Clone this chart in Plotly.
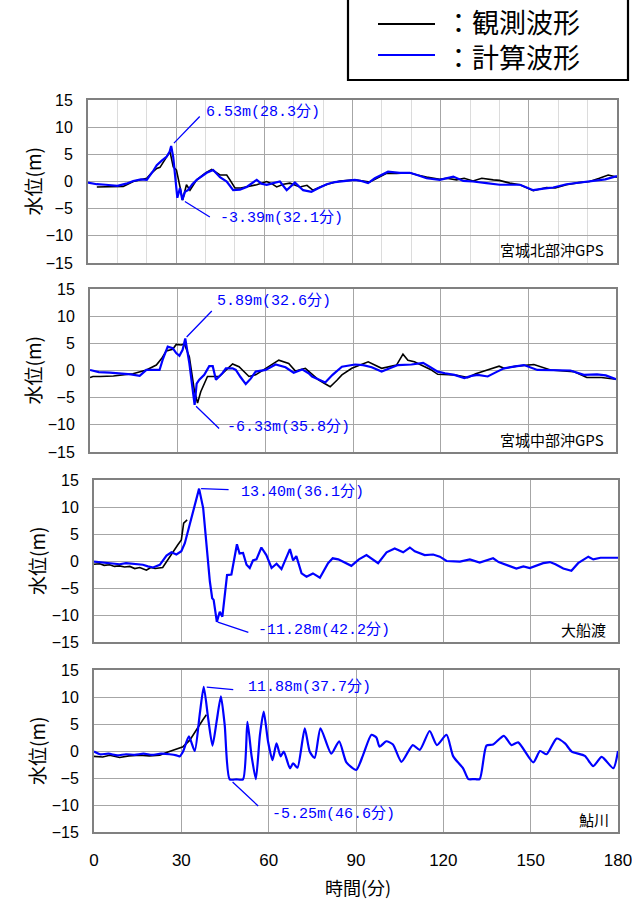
import plotly.graph_objects as go
import numpy as np

# ---------------- data (time in minutes, water level in m) ----------------
# Panel 1: 宮城北部沖GPS
t_obs1 = [3, 8, 12, 15.4, 18, 20, 21.5, 23.4, 24.5, 26.2, 27.9, 29.0, 30.1, 31.3, 32.2, 33.5, 34.7, 36, 37,
          40, 42.1, 44.9, 47.2, 48.3, 50, 52, 54, 57.4, 60.8, 62.5, 64.2, 66.5, 68.7, 72.1, 74.5, 76.5, 79, 82,
          85.7, 90.8, 95.9, 98, 101.6, 105, 109.5, 112, 115.2, 119.7, 122, 125.4, 128, 131, 134, 137.9, 140,
          143.5, 147, 151.5, 154, 156, 159, 162.8, 167, 170.7, 174, 177, 180]
v_obs1 = [-1.0, -1.0, -0.9, 0.0, 0.3, 0.6, 1.5, 2.4, 2.6, 4.0, 5.5, 2.7, 2.1, -1.0, -3.4, -0.6, -1.6, -0.5, 0.3,
          1.6, 2.2, 1.2, 1.2, 0.3, -1.2, -1.2, -1.0, -0.6, 0.0, -0.4, -1.0, -0.5, -0.3, -1.0, -0.7, -1.6, -1.0, -0.4,
          0.1, 0.3, -0.1, 0.5, 1.5, 1.5, 1.6, 1.2, 0.8, 0.4, 0.6, 0.3, 0.6, 0.1, 0.6, 0.3, 0.2,
          -0.3, -0.6, -1.7, -1.4, -1.1, -1.2, -0.6, -0.2, 0.0, 0.6, 1.2, 0.8]
t_calc1 = [0, 3, 6, 10, 13, 15.4, 18, 20, 22, 23.4, 25, 26.8, 27.8, 28.3, 29.0, 29.6, 30.4, 31.3, 32.1, 33, 34,
           35.5, 37, 40.4, 42.6, 44.9, 47.2, 49.4, 51.7, 54, 56, 57.4, 59, 60.8, 63, 65.3, 67.6, 70.4, 73.2, 76,
           78.5, 81.2, 84, 86.8, 90.8, 93, 95.3, 97.6, 100, 102.1, 106, 109.5, 112, 115.2, 119.7, 122, 124.3,
           127.7, 131, 135.6, 140.1, 147, 149, 151.5, 155, 158.3, 162.8, 167, 171.9, 176, 180]
v_calc1 = [-0.2, -0.5, -0.6, -0.8, -0.4, 0.1, 0.4, 0.3, 1.8, 3.0, 3.8, 4.6, 5.5, 6.53, 4.5, 1.0, -3.0, -1.2, -3.39, -1.9, -1.6,
           -0.5, 0.3, 1.6, 2.1, 0.8, 0.0, -1.6, -1.5, -1.0, -0.2, 0.3, -0.4, -0.6, -0.3, 0.0, -1.6, -0.2, -1.6, -1.9,
           -1.2, -0.5, -0.1, 0.1, 0.3, 0.1, -0.3, 0.6, 1.2, 1.8, 1.6, 1.6, 1.2, 0.6, 0.3, 0.6, 0.9,
           0.1, 0.0, -0.3, -0.6, -0.6, -1.0, -1.6, -1.3, -1.1, -0.5, -0.2, 0.1, 0.4, 1.0]

# Panel 2: 宮城中部沖GPS
t_obs2 = [0, 1, 3.4, 8, 14.7, 19.3, 22.7, 24.5, 26.1, 28.3, 29.5, 31.2, 32.3, 34.0, 35.7, 36.8, 37.9, 40.2, 44.2,
          46.5, 48.8, 51, 54.4, 56.7, 60.1, 62, 64.6, 68, 70.3, 73.7, 75.5, 78.2, 80, 82.2, 84.5, 86.2, 89.6, 92.5,
          95.2, 99.8, 103, 104.9, 107.1, 108.8, 111, 114.5, 116.5, 119, 124.7, 129.3, 132, 134.9, 137, 140, 141.7,
          146, 151.9, 155, 157.6, 165.5, 168, 170, 175, 180]
v_obs2 = [-1.3, -1.1, -1.1, -1.0, -0.6, 0.1, 1.0, 2.2, 3.6, 3.9, 4.8, 4.7, 4.9, 2.5, -3.6, -6.0, -3.9, -1.1, -1.1,
          0.0, 1.2, 0.7, -1.1, -0.8, 0.4, 1.0, 1.9, 1.3, -0.1, 0.4, -0.5, -1.7, -2.3, -3.0, -1.8, -0.8, 0.4, 1.0,
          1.6, 0.4, 0.7, 1.0, 3.0, 1.9, 1.6, 0.8, 0.2, -0.7, -0.8, -1.3, -0.6, -0.1, 0.3, 0.8, 0.4,
          0.8, 1.1, 0.5, 0.1, -0.2, -0.8, -1.3, -1.3, -1.6]
t_calc2 = [0, 3, 6.8, 10, 14, 17, 19.3, 23.8, 25, 26.6, 28.3, 29.5, 30.6, 31.7, 32.6, 34.0, 35.0, 35.8, 36.5, 37.4,
           39.1, 40.8, 42, 43.1, 45.3, 46.5, 48.8, 49.9, 51.5, 53.3, 55, 56.7, 60.1, 63.5, 66.9, 69.7, 72.6, 74.8,
           76, 78.2, 80.5, 83, 86.2, 90.7, 93.5, 96.4, 99.8, 103, 105.4, 110, 114, 116.5, 119, 121.5, 124.7, 128.1,
           130.5, 132.7, 136.1, 139, 141.7, 145, 148.5, 153.1, 158, 164.4, 169, 173.5, 176.5, 180]
v_calc2 = [0.1, -0.3, -0.4, -0.5, -0.7, -1.0, 0.1, 0.1, 2.2, 4.4, 4.1, 3.2, 2.7, 3.8, 5.89, 1.3, -3.5, -6.33, -2.4, -1.7,
           -0.8, 0.8, 0.8, -1.7, -0.5, 0.4, 0.4, 0.1, -1.2, -2.5, -1.5, -0.2, 0.1, 1.1, 0.6, -0.4, 0.2, -0.5,
           -1.1, -1.7, -2.2, -0.8, 0.7, 1.1, 1.0, 0.6, -0.2, 0.5, 1.0, 1.1, 1.4, 0.6, -0.2, -0.5, -0.8, -1.4,
           -1.0, -0.8, -1.1, -0.3, 0.4, 0.7, 1.0, 0.1, 0.0, 0.0, -0.8, -0.7, -0.9, -1.6]

# Panel 3: 大船渡
t_obs3 = [0, 2, 3.5, 5.4, 7, 8.8, 10.5, 12.3, 14, 15.7, 17, 18, 19.5, 21, 23.6, 24.9, 27.1, 28.8, 30.0, 30.8, 32.0]
v_obs3 = [-0.6, -0.5, -0.8, -0.7, -1.0, -0.9, -1.1, -1.0, -1.4, -1.2, -1.5, -1.7, -1.2, -1.4, -1.2, -0.1, 1.8, 3.0,
          3.9, 7.0, 7.6]
t_calc3 = [0, 3, 5.5, 8.8, 11, 13.4, 16.8, 18.5, 20.3, 22.6, 24.9, 26.6, 28.3, 30.0, 31.2, 32.9, 34.6, 36.1, 37.5,
           38.6, 39.8, 40.6, 41.1, 42.2, 43.2, 44.1, 44.6, 45.7, 47.2, 48.2, 49.1, 50, 51.2, 52.4, 53.5, 54.6, 55.8,
           57.5, 59.2, 61, 62.7, 64.4, 67.3, 68.4, 69.5, 71.3, 73, 75.2, 77.6, 80.4, 82, 83.9, 85.6, 88.4, 91,
           93.6, 97.6, 100.5, 103.3, 106.2, 108.5, 110.2, 113.6, 116.5, 118.8, 121.1, 125.7, 129.1, 132.5, 135,
           137.1, 139, 141.7, 145.1, 147.5, 149.7, 154.3, 156.6, 158.5, 161.2, 164, 166.3, 169.8, 171.5, 174,
           176.1, 178, 180]
v_calc3 = [-0.1, -0.3, -0.5, -0.6, -0.4, -0.5, -0.7, -1.0, -1.2, -0.7, 1.0, 1.6, 1.2, 1.8, 3.3, 6.8, 10.4, 13.40, 9.8,
           3.0, -3.8, -6.9, -7.2, -11.28, -9.4, -10.3, -8.1, -2.6, -2.5, 0.5, 3.1, 1.4, 1.5, -0.7, -1.3, 0.1, 0.3,
           2.5, 1.1, -1.3, -0.5, -1.5, 2.2, 0.1, 0.9, -2.3, -2.9, -2.3, -3.1, -0.4, 0.5, 0.3, -0.2, -0.9, 0.3,
           1.1, -0.4, 1.6, 2.3, 1.6, 2.5, 1.8, 1.1, 1.2, 0.8, 0.0, -0.1, 0.3, -0.3, 0.2,
           0.5, -0.2, -0.7, -1.4, -1.0, -1.3, -0.4, -0.2, -0.6, -1.4, -1.8, -0.4, 0.8, 0.3, 0.6,
           0.6, 0.5, 0.6]

# Panel 4: 鮎川
t_obs4 = [0, 3, 5.4, 8.8, 12, 15.7, 19, 22.6, 24.9, 28.3, 30.6, 32.9, 35.7, 37.3, 38.6]
v_obs4 = [-1.0, -1.1, -0.8, -1.2, -0.9, -0.8, -0.9, -0.8, -0.3, 0.4, 0.8, 2.0, 4.5, 5.7, 6.7]
t_calc4 = [0, 2, 5, 8, 11, 14, 17, 20, 23, 26, 28.3, 29.4, 30.6, 32.6, 34.6, 36.3, 37.7, 39.2, 40.7, 42.1, 43.6,
           44.9, 46.6, 48.9, 51.2, 52.7, 54.1, 55.6, 57, 58.3, 59.8, 61.3, 62.7, 64.1, 65.2, 67.3, 68.4, 69.9, 72.4,
           74.1, 75.8, 77.8, 81.5, 84.2, 86.7, 90.1, 92.4, 95.3, 97, 98.1, 100.4, 102.7, 105.6, 109.5, 111.9, 115.3,
           117.8, 121.1, 123.4, 126.8, 128.6, 130.5, 132.5, 134.8, 137.1, 140.8, 143.4, 145.7, 150.9, 153.2, 155.5,
           158.9, 161.8, 164.1, 168.6, 171.5, 174.4, 178.4, 180]
v_calc4 = [-0.1, -0.6, -0.5, -0.8, -0.6, -0.7, -0.5, -0.7, -0.5, -0.6, -0.8, -1.0, -0.1, 2.7, 0.0, 6.7, 11.88, 6.1, 1.0,
           5.4, 10.1, 4.8, -5.25, -5.25, -5.25, 5.4, -0.8, -5.2, 3.0, 7.3, 1.7, -1.7, 1.4, -1.0, -0.1, -3.2, -2.3, -3.1,
           4.2, -0.1, -1.3, 4.2, -0.5, 1.8, -2.1, -3.5, -0.8, 3.0, 2.5, 0.8, 1.8, 1.2, -2.0, 1.1, 0.2, 3.7,
           1.1, 3.0, -1.0, -3.2, -5.2, -5.2, -5.2, 1.0, 1.2, 2.8, 1.1, 1.6, -2.1, 0.0, -0.6,
           2.3, 1.4, -0.1, -0.9, -2.8, -1.1, -3.2, 0.0]

stations = ["宮城北部沖GPS", "宮城中部沖GPS", "大船渡", "鮎川"]
x_ticks = [0, 30, 60, 90, 120, 150, 180]
series_names = ["観測波形", "計算波形"]

# ---------------- layout helpers ----------------
W, H = 632, 899
def px(x): return x / W
def py(y): return 1 - y / H

BLUE = "#0000ff"
GRID = "#a6a6a6"
FRAME = "#808080"
TICKFONT = dict(family="Liberation Sans, Arial", size=16, color="black")
JP = "Noto Sans CJK JP"
MONO = "Liberation Mono, Noto Sans CJK JP"

panels = [
    dict(to=t_obs1, vo=v_obs1, tc=t_calc1, vc=v_calc1, xd=(88, 617), yd=(100, 263), lab_r=606, ytit=32, shape="linear",
         hi=dict(ax=30, ay=-31, sd=4, xs=34, ys=34), lo=dict(ax=29, ay=18, sd=3, xs=37, ys=-18)),
    dict(to=t_obs2, vo=v_obs2, tc=t_calc2, vc=v_calc2, xd=(90, 616), yd=(289, 452), lab_r=606, ytit=32, shape="linear",
         hi=dict(ax=28, ay=-29, sd=2, xs=31, ys=38), lo=dict(ax=26, ay=25, sd=2, xs=31, ys=-22)),
    dict(to=t_obs3, vo=v_obs3, tc=t_calc3, vc=v_calc3, xd=(94, 618), yd=(480, 642), lab_r=608, ytit=36, shape="linear",
         hi=dict(ax=31, ay=1, sd=2, xs=41, ys=-3), lo=dict(ax=33, ay=11, sd=1, xs=40, ys=-8)),
    dict(to=t_obs4, vo=v_obs4, tc=t_calc4, vc=v_calc4, xd=(94, 618), yd=(670, 832), lab_r=611, ytit=36, shape="spline",
         hi=dict(ax=31, ay=3, sd=3, xs=43, ys=0), lo=dict(ax=30, ay=28, sd=4, xs=41, ys=-35)),
]

fig = go.Figure()
annotations = []
shapes = []
layout = dict(width=W, height=H, margin=dict(l=0, r=0, t=0, b=0, pad=0, autoexpand=False), paper_bgcolor="white",
              plot_bgcolor="white", showlegend=False, autosize=False, template="none")

for i, p in enumerate(panels, start=1):
    xa = "x" if i == 1 else f"x{i}"
    ya = "y" if i == 1 else f"y{i}"
    fig.add_trace(go.Scatter(x=p["to"], y=p["vo"], xaxis=xa, yaxis=ya, mode="lines", name=series_names[0],
                             line=dict(color="black", width=1.6)))
    line_c = dict(color=BLUE, width=2.2, shape=p["shape"])
    if p["shape"] == "spline":
        line_c["smoothing"] = 0.6
    fig.add_trace(go.Scatter(x=p["tc"], y=p["vc"], xaxis=xa, yaxis=ya, mode="lines", name=series_names[1],
                             line=line_c))
    xaxis = dict(domain=[px(p["xd"][0]), px(p["xd"][1])], range=[0, 180], tickmode="array", tickvals=x_ticks,
                 ticktext=[str(v) for v in x_ticks], showgrid=True, gridcolor=GRID, gridwidth=1,
                 showline=True, mirror=True, linecolor=FRAME, linewidth=2, zeroline=False, automargin=False,
                 showticklabels=(i == 4), ticks="", tickfont=dict(family="Liberation Sans, Arial", size=17, color="black"),
                 ticklabelstandoff=12, ticklabeloverflow="allow", anchor=ya, fixedrange=True)
    if i == 1:
        xaxis["minor"] = dict(tickmode="linear", tick0=0, dtick=10, showgrid=True, gridcolor="#dcdcdc", gridwidth=1,
                              ticks="")
    yaxis = dict(domain=[py(p["yd"][1]), py(p["yd"][0])], range=[-15, 15], tickmode="linear", tick0=0, dtick=5,
                 showgrid=True, gridcolor=GRID, gridwidth=1, showline=True, mirror=True, linecolor=FRAME, linewidth=2,
                 zeroline=False, ticks="", tickfont=TICKFONT, ticklabelstandoff=10, ticklabeloverflow="allow",
                 automargin=False, anchor=xa, fixedrange=True)
    layout["xaxis" if i == 1 else f"xaxis{i}"] = xaxis
    layout["yaxis" if i == 1 else f"yaxis{i}"] = yaxis

    # peak / trough annotations derived from the calculated series
    tc = np.array(p["tc"]); vc = np.array(p["vc"])
    for key, idx in (("hi", int(np.argmax(vc))), ("lo", int(np.argmin(vc)))):
        t0, v0 = float(tc[idx]), float(vc[idx])
        a = p[key]
        annotations.append(dict(x=t0, y=v0, xref=xa, yref=ya, text="", showarrow=True, arrowhead=0,
                                arrowwidth=1.3, arrowcolor=BLUE, ax=a["ax"], ay=a["ay"], standoff=a["sd"]))
        annotations.append(dict(x=t0, y=v0, xref=xa, yref=ya, text=f"{v0:.2f}m({t0:.1f}分)", showarrow=False,
                                xanchor="left", yanchor="middle", xshift=a["xs"], yshift=a["ys"], borderpad=0,
                                font=dict(family=MONO, size=15, color=BLUE)))
    # station label
    annotations.append(dict(x=px(p["lab_r"]), y=py(p["yd"][1] - 13), xref="paper", yref="paper",
                            text=stations[i - 1], showarrow=False, xanchor="right", yanchor="middle",
                            font=dict(family=JP, size=15, color="black")))
    # y title
    annotations.append(dict(x=px(p["ytit"]), y=py((p["yd"][0] + p["yd"][1]) / 2), xref="paper", yref="paper",
                            text="水位(m)", textangle=-90, showarrow=False, xanchor="center", yanchor="middle",
                            font=dict(family=JP, size=19, color="black")))

# x title
annotations.append(dict(x=px(358), y=py(887), xref="paper", yref="paper", text="時間(分)", showarrow=False,
                        xanchor="center", yanchor="middle", font=dict(family=JP, size=18, color="black")))

# legend box
shapes.append(dict(type="rect", xref="paper", yref="paper", x0=px(348), x1=px(628), y0=py(80), y1=py(-6),
                   line=dict(color="black", width=2.2), fillcolor="white", layer="above"))
for yy, col in ((24, "black"), (55, BLUE)):
    shapes.append(dict(type="line", xref="paper", yref="paper", x0=px(378), x1=px(435), y0=py(yy), y1=py(yy),
                       line=dict(color=col, width=2), layer="above"))
annotations.append(dict(x=px(443), y=py(39), xref="paper", yref="paper",
                        text="：" + series_names[0] + "<br>：" + series_names[1], showarrow=False, align="left",
                        xanchor="left", yanchor="middle", font=dict(family=JP, size=27, color="black")))

layout["annotations"] = annotations
layout["shapes"] = shapes
fig.update_layout(**layout)
fig.write_html("out.html", config={"displayModeBar": False},
               post_script="document.body.style.margin='0px';document.body.style.padding='0px';")
